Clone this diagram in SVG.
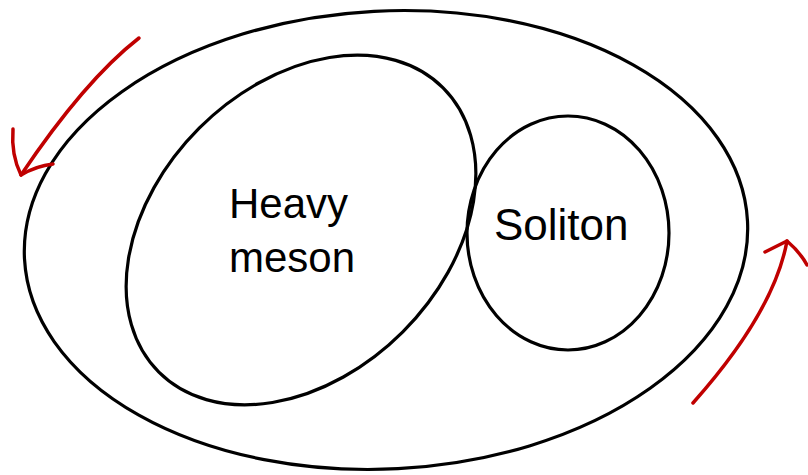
<svg xmlns="http://www.w3.org/2000/svg" width="808" height="475" viewBox="0 0 808 475">
<style>
.shape{fill:none;stroke:#000;stroke-width:3.2}
.lbl{font-family:"Liberation Sans",Arial,sans-serif;font-size:42px;fill:#000}
.arr{fill:none;stroke:#C00000;stroke-width:3.5;stroke-linecap:round;stroke-linejoin:round}
</style>
<rect width="808" height="475" fill="#fff"/>
<g id="outer">
<ellipse class="shape" cx="386" cy="240" rx="362" ry="229" transform="rotate(-3 386 240)"/>
</g>
<g id="heavy-meson">
<ellipse class="shape" cx="301" cy="230" rx="201" ry="144" transform="rotate(-45 301 230)"/>
<text class="lbl" x="229" y="218">Heavy</text>
<text class="lbl" x="229" y="272">meson</text>
</g>
<g id="soliton">
<ellipse class="shape" cx="568" cy="233" rx="101" ry="117"/>
<text class="lbl" x="494" y="240" style="font-size:44px">Soliton</text>
</g>
<g id="connectors">
<path class="arr" d="M139,38 Q85,80 21,175"/>
<path class="arr" d="M13,129 Q11,155 21,175 Q36,166 53,164"/>
<path class="arr" d="M693,403 Q774,312 787,241"/>
<path class="arr" d="M765,252 L787,241 Q800,252 807,265"/>
</g>
</svg>
